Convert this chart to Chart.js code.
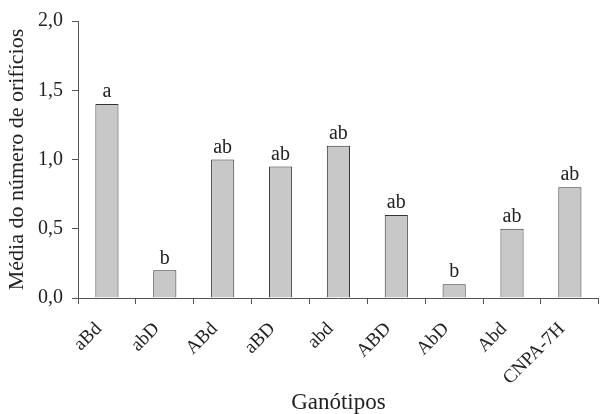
<!DOCTYPE html>
<html>
<head>
<meta charset="utf-8">
<script src="https://cdn.jsdelivr.net/npm/chart.js@4"></script>
<style>
html,body{margin:0;padding:0;background:#fff;}
#wrap{width:600px;height:414px;}
</style>
</head>
<body>
<div id="wrap"><canvas id="c" width="600" height="414"></canvas></div>
<script>
const categories = ['aBd','abD','ABd','aBD','abd','ABD','AbD','Abd','CNPA-7H'];
const values = [1.4, 0.2, 1.0, 0.95, 1.1, 0.6, 0.1, 0.5, 0.8];
const letters = ['a','b','ab','ab','ab','ab','b','ab','ab'];
const yTicks = [0, 0.5, 1.0, 1.5, 2.0];

const FONT = "'Liberation Serif', 'Times New Roman', serif";
const TXT = '#222';

const letterPlugin = {
  id: 'letters',
  afterDatasetsDraw(chart) {
    const ctx = chart.ctx;
    const meta = chart.getDatasetMeta(0);
    ctx.save();
    ctx.font = '20px ' + FONT;
    ctx.fillStyle = TXT;
    ctx.textAlign = 'center';
    ctx.textBaseline = 'bottom';
    meta.data.forEach((bar, i) => {
      ctx.fillText(letters[i], bar.x, bar.y - 2);
    });
    ctx.restore();
  }
};

new Chart(document.getElementById('c'), {
  type: 'bar',
  data: {
    labels: categories,
    datasets: [{
      data: values,
      backgroundColor: '#c8c8c8',
      borderColor: '#333',
      borderWidth: 1,
      barPercentage: 0.8,
      categoryPercentage: 0.5
    }]
  },
  options: {
    responsive: false,
    animation: false,
    devicePixelRatio: 1,
    layout: { padding: { top: 13, right: 0, left: 0, bottom: 0 } },
    plugins: { legend: { display: false }, tooltip: { enabled: false } },
    scales: {
      x: {
        grid: { display: true, drawOnChartArea: false, offset: true, tickLength: 6, color: '#555' },
        border: { color: '#555', width: 1 },
        ticks: {
          font: { family: FONT, size: 19 }, color: TXT,
          minRotation: 45, maxRotation: 45, padding: 14, labelOffset: -8
        },
        title: { display: true, text: 'Ganótipos', font: { family: FONT, size: 23 }, color: TXT, padding: { top: 0, bottom: -3 } },
        afterFit(s) { s.height = 116; }
      },
      y: {
        min: 0, max: 2.0,
        afterBuildTicks(s) { s.ticks = yTicks.map(v => ({ value: v })); },
        grid: { display: true, drawOnChartArea: false, tickLength: 6, color: '#555' },
        border: { color: '#555', width: 1 },
        ticks: {
          font: { family: FONT, size: 20 }, color: TXT, padding: 9,
          callback: v => v.toFixed(1).replace('.', ',')
        },
        title: { display: true, text: 'Média do número de orifícios', font: { family: FONT, size: 22 }, color: TXT, padding: { top: 4, bottom: 0 } },
        afterFit(s) { s.width = 78; }
      }
    }
  },
  plugins: [letterPlugin]
});
</script>
</body>
</html>
